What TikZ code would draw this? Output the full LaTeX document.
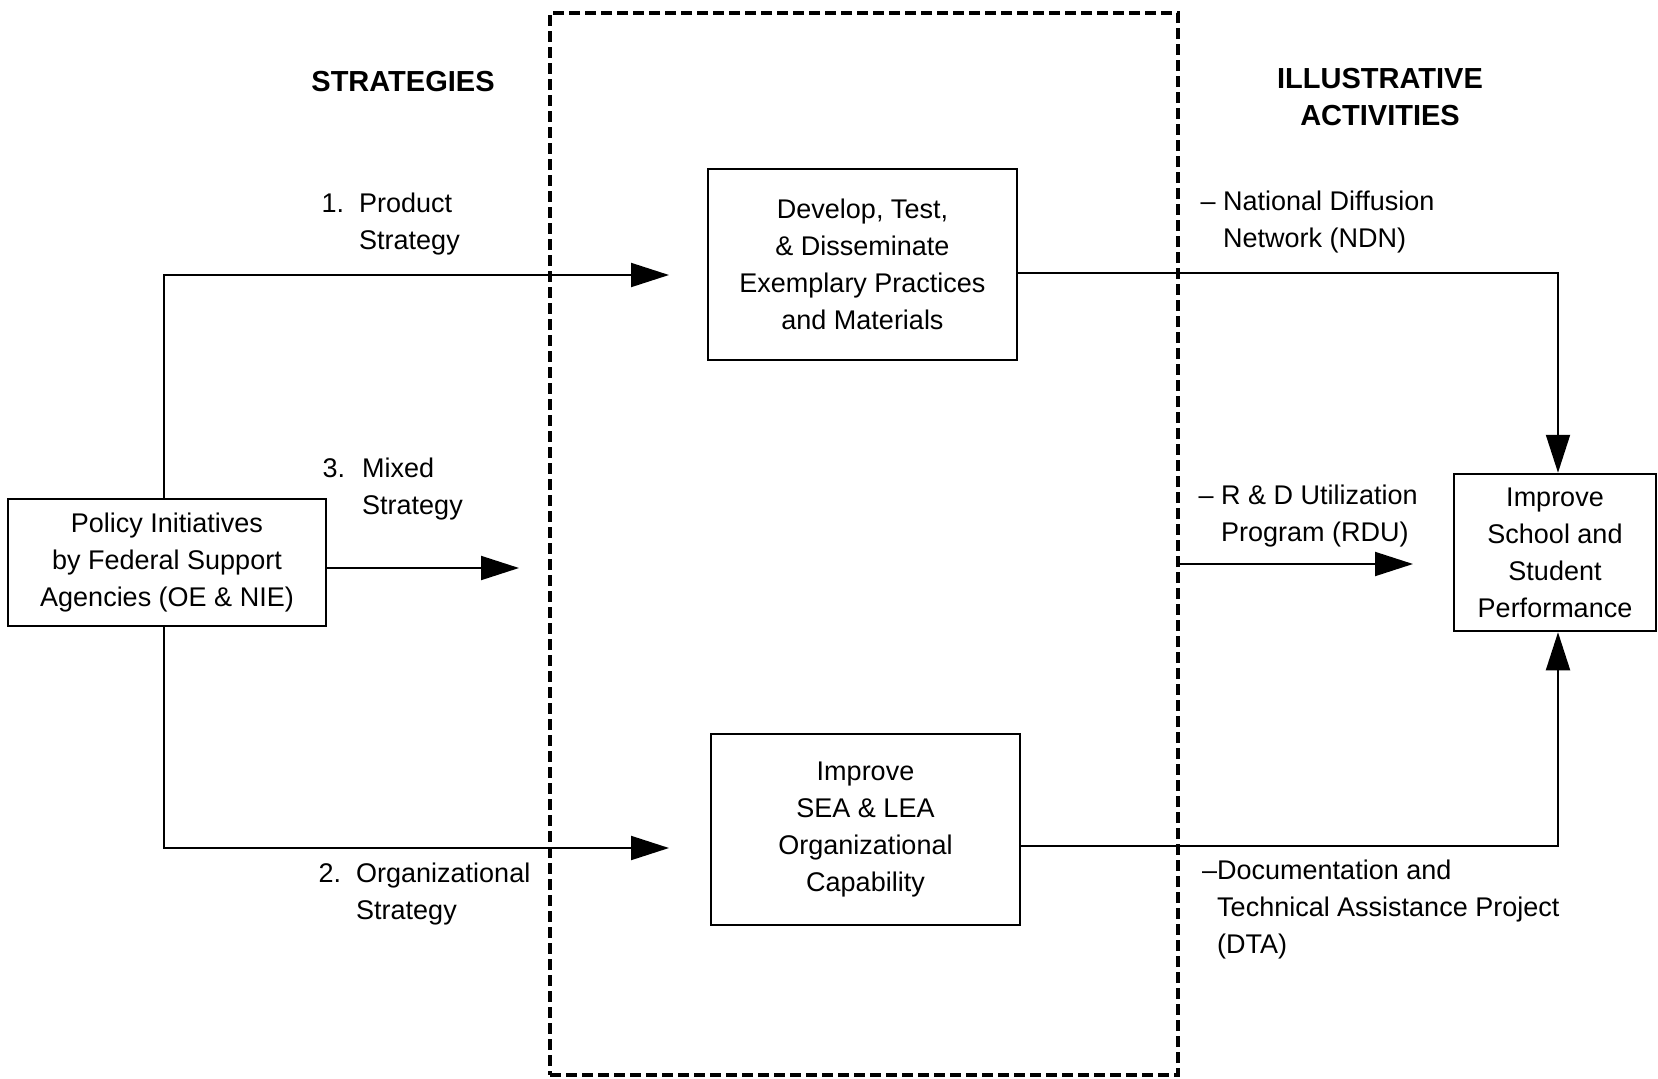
\documentclass[tikz,border=0pt]{standalone}
\usepackage{fontspec}
\setmainfont{Liberation Sans}
\usetikzlibrary{arrows.meta}
\begin{document}
\begin{tikzpicture}[x=1pt,y=-1pt,
  txt/.style={font=\fontsize{27}{37}\selectfont},
  head/.style={font=\fontsize{29}{37}\selectfont\bfseries, align=center, inner sep=0pt},
  box/.style={draw, line width=2.5pt, align=center, inner sep=0pt, txt},
  lbl/.style={align=left, inner sep=0pt, anchor=north west, txt},
  conn/.style={line width=2pt},
  arr/.style={line width=2pt, -{Triangle[length=38pt,width=24pt]}},
  frame/.style={draw, line width=3.5pt, dash pattern=on 11pt off 5pt, inner sep=0pt}
]
\useasboundingbox (0,0) rectangle (1658,1079);

% dashed frame
\node[frame, minimum width=628pt, minimum height=1062pt] (frame) at (864,544) {};

% headings
\node[head] (hstrat) at (403,82) {STRATEGIES};
\node[head] (hact) at (1380,97) {ILLUSTRATIVE\\ACTIVITIES};

% boxes
\node[box, minimum width=309pt, minimum height=191pt] (dev) at (862.5,264.5)
  {Develop, Test,\\\& Disseminate\\Exemplary Practices\\and Materials};
\node[box, minimum width=309pt, minimum height=191pt] (org) at (865.5,829.5)
  {Improve\\SEA \& LEA\\Organizational\\Capability};
\node[box, minimum width=318pt, minimum height=127pt] (pol) at (167,562.5)
  {Policy Initiatives\\by Federal Support\\Agencies (OE \& NIE)};
\node[box, minimum width=202pt, minimum height=157pt] (imp) at (1555,552.5)
  {Improve\\School and\\Student\\Performance};

% strategy labels
\node[lbl] (lprod) at (359,193) {\llap{1.\hspace{15pt}}Product\\Strategy};
\node[lbl] (lmix) at (362,458) {\llap{3.\hspace{17pt}}Mixed\\Strategy};
\node[lbl] (lorg) at (356,863) {\llap{2.\hspace{15pt}}Organizational\\Strategy};

% activity labels
\node[lbl] (lndn) at (1223,191) {\llap{-- }National Diffusion\\Network (NDN)};
\node[lbl] (lrdu) at (1221,485) {\llap{-- }R \& D Utilization\\Program (RDU)};
\node[lbl] (ldta) at (1217,860) {\llap{--}Documentation and\\Technical Assistance Project\\(DTA)};

% coordinates
\coordinate (jt) at (164,275);
\coordinate (jb) at (164,848);
\coordinate (devin) at (669,275);
\coordinate (orgin) at (669,848);
\coordinate (mixy) at (0,568);
\coordinate (mixtip) at (519,568);
\coordinate (rduy) at (0,564);
\coordinate (rdutip) at (1413,564);
\coordinate (cNE) at (1558,273);
\coordinate (cSE) at (1558,846);

% connectors
\draw[arr] (pol.north -| jt) -- (jt) -- (devin);
\draw[arr] (pol.south -| jb) -- (jb) -- (orgin);
\draw[arr] (pol.east |- mixy) -- (mixtip);
\draw[arr] (frame.east |- rduy) -- (rdutip);
\draw[arr] (dev.east |- cNE) -- (cNE) -- (imp.north -| cNE);
\draw[arr] (org.east |- cSE) -- (cSE) -- (imp.south -| cSE);
\end{tikzpicture}
\end{document}
